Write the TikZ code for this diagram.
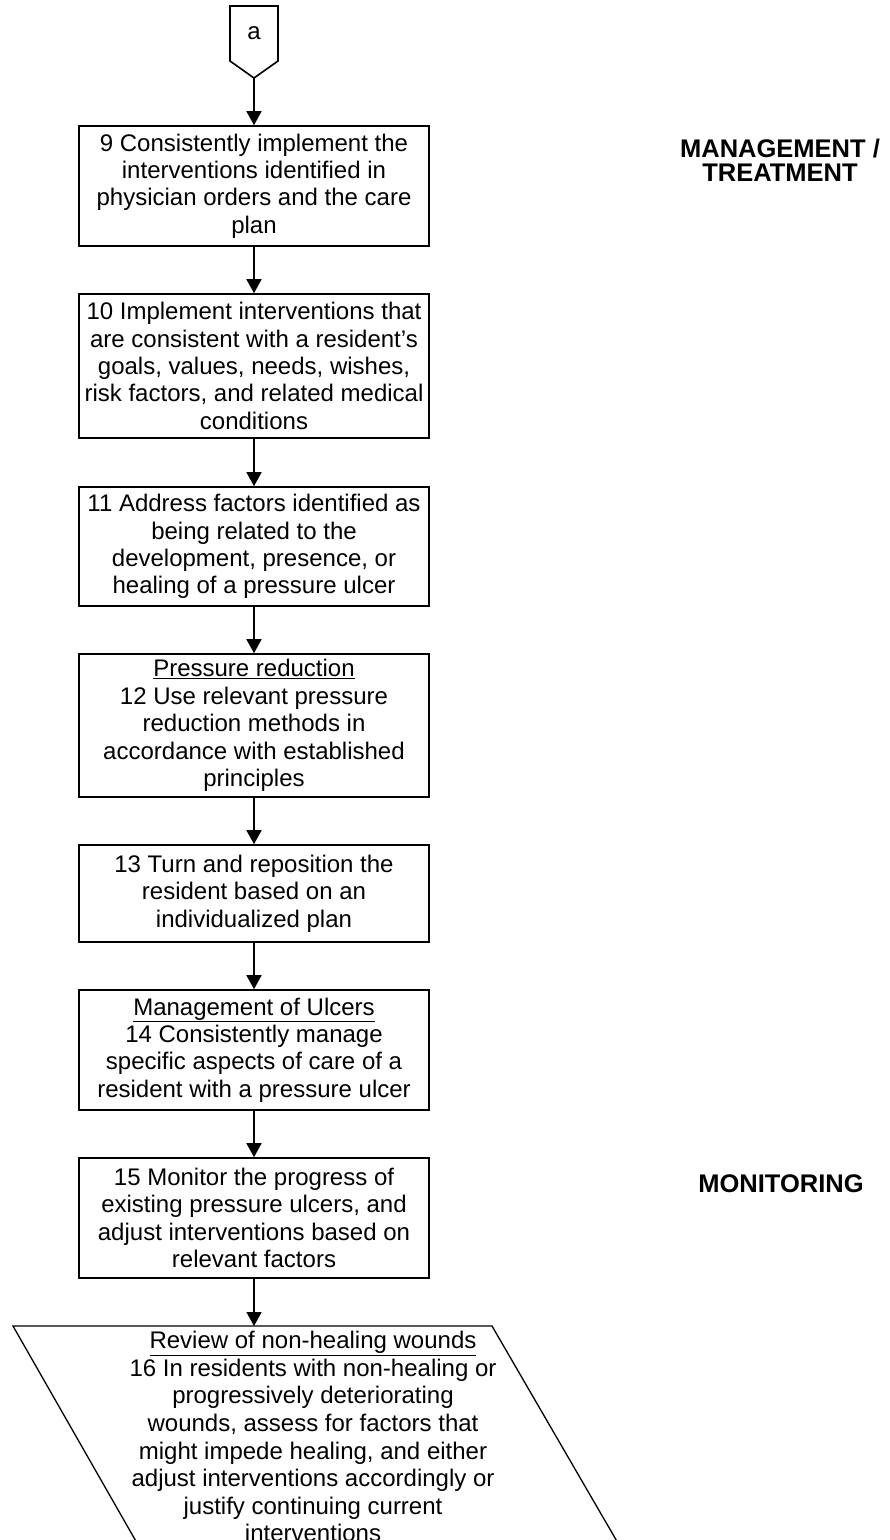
\documentclass[tikz,border=0pt]{standalone}
\usepackage{fontspec}
\setmainfont{Liberation Sans}
\usetikzlibrary{arrows.meta}
\begin{document}
\begin{tikzpicture}[x=1pt,y=-1pt,
  every node/.style={font=\fontsize{24}{27.4}\selectfont, inner sep=0pt},
  stepbox/.style={draw, line width=1.6pt, minimum width=350pt, align=center},
  flow/.style={line width=1.6pt, -{Triangle[width=15pt,length=14pt]}},
  label/.style={font=\fontsize{25.5}{24}\selectfont\bfseries, align=center}]
\useasboundingbox (0,0) rectangle (890,1540);
\clip (0,0) rectangle (890,1540);
% off-page connector
\draw[line width=1.6pt] (230,6) -- (278,6) -- (278,61) -- (254,78) -- (230,61) -- cycle;
\node (a) at (254,33) {a};
\coordinate (aout) at (254,78);
% boxes
\node[stepbox, minimum height=120pt] (b9) at (254,186)
  {9 Consistently implement the\\interventions identified in\\physician orders and the care\\plan};
\node[stepbox, minimum height=144pt] (b10) at (254,366)
  {10 Implement interventions that\\are consistent with a resident’s\\goals, values, needs, wishes,\\risk factors, and related medical\\conditions};
\node[stepbox, minimum height=119pt] (b11) at (254,546.5)
  {11 Address factors identified as\\being related to the\\development, presence, or\\healing of a pressure ulcer};
\node[stepbox, minimum height=143pt] (b12) at (254,725.5)
  {\underline{Pressure reduction}\\12 Use relevant pressure\\reduction methods in\\accordance with established\\principles};
\node[stepbox, minimum height=97pt] (b13) at (254,893.5)
  {13 Turn and reposition the\\resident based on an\\individualized plan};
\node[stepbox, minimum height=120pt] (b14) at (254,1050)
  {\underline{Management of Ulcers}\\14 Consistently manage\\specific aspects of care of a\\resident with a pressure ulcer};
\node[stepbox, minimum height=120pt] (b15) at (254,1218)
  {15 Monitor the progress of\\existing pressure ulcers, and\\adjust interventions based on\\relevant factors};
% parallelogram
\coordinate (ptl) at (13,1326);
\coordinate (ptr) at (492,1326);
\coordinate (pbl) at (141,1550);
\coordinate (pbr) at (622,1550);
\coordinate (ptop) at (254,1326);
\draw[line width=1.3pt] (pbl) -- (ptl) -- (ptr) -- (pbr);
\node[align=center, anchor=north, font=\fontsize{24}{27.6}\selectfont] (b16) at (313,1331)
  {\underline{Review of non-healing wounds}\\16 In residents with non-healing or\\progressively deteriorating\\wounds, assess for factors that\\might impede healing, and either\\adjust interventions accordingly or\\justify continuing current\\interventions};
% connectors
\draw[flow] (aout) -- (b9.north);
\draw[flow] (b9) -- (b10);
\draw[flow] (b10) -- (b11);
\draw[flow] (b11) -- (b12);
\draw[flow] (b12) -- (b13);
\draw[flow] (b13) -- (b14);
\draw[flow] (b14) -- (b15);
\draw[flow] (b15.south) -- (ptop);
% side labels
\node[label] (mt) at (780,160) {MANAGEMENT /\\TREATMENT};
\node[label] (mon) at (781,1184) {MONITORING};
\end{tikzpicture}
\end{document}
